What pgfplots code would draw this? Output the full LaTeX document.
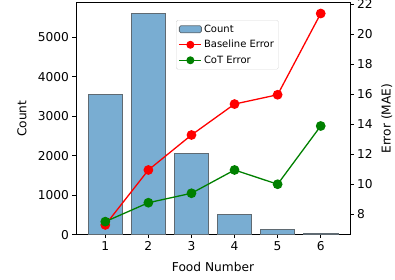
\documentclass[border=0pt]{standalone}
\usepackage{fontspec}
\setmainfont{DejaVu Sans}
\usepackage{pgfplots}
\pgfplotsset{compat=1.18}
\definecolor{barfill}{HTML}{79ADD2}
\definecolor{baredge}{HTML}{5F6A72}
\definecolor{cotgreen}{HTML}{008000}
\begin{document}
\begin{tikzpicture}[font=\fontsize{12.2}{14}\selectfont]
\pgfplotsset{
  common/.style={
    scale only axis, width=274pt, height=232pt,
    xmin=0.32, xmax=6.68,
    tick align=outside,
    major tick length=3.5pt,
    tick style={black, line width=0.6pt},
    /pgf/number format/assume math mode=true,
    /pgf/number format/1000 sep={},
    axis line style={line width=0.7pt},
  }
}
\begin{axis}[common,
  ymin=0, ymax=5873,
  xtick={1,2,3,4,5,6},
  ytick={0,1000,2000,3000,4000,5000},
  xtick pos=bottom, ytick pos=left,
  scaled y ticks=false,
  xlabel={Food Number}, ylabel={Count},
  xlabel style={at={(axis description cs:0.5,-0.138)}, anchor=center},
  ylabel style={at={(axis description cs:-0.197,0.5)}, anchor=center},
]
\addplot[ybar, bar width=0.8, fill=barfill, draw=baredge, line width=0.8pt, bar shift=0pt]
  coordinates {(1,3555) (2,5595) (3,2060) (4,516) (5,127) (6,35)};
\end{axis}
\begin{axis}[common,
  ymin=6.64, ymax=22.09,
  axis x line=none,
  axis y line*=right,
  ytick={8,10,12,14,16,18,20,22},
  ylabel={Error (MAE)},
  ylabel style={at={(axis description cs:1.134,0.5)}, anchor=center},
  legend style={at={(0.365,0.925)}, anchor=north west, draw=black!15, rounded corners=1.5pt,
    font=\fontsize{10}{12}\selectfont, row sep=2.5pt, inner sep=2.5pt},
  legend cell align=left,
  legend image code/.code={\draw[mark repeat=2, mark phase=2, mark size=3.3pt]
     plot coordinates {(0pt,0pt) (11pt,0pt) (22pt,0pt)};},
]
\addlegendimage{legend image code/.code={\draw[fill=barfill, draw=baredge, line width=0.8pt]
     (0pt,-3.5pt) rectangle (22pt,3.5pt);}}
\addlegendentry{Count}
\addplot[red, line width=1.3pt, mark=*, mark size=4.2pt, mark options={solid}]
  coordinates {(1,7.29) (2,10.95) (3,13.28) (4,15.34) (5,15.96) (6,21.37)};
\addlegendentry{Baseline Error}
\addplot[cotgreen, line width=1.3pt, mark=*, mark size=4.2pt, mark options={solid}]
  coordinates {(1,7.51) (2,8.77) (3,9.40) (4,10.95) (5,10.00) (6,13.88)};
\addlegendentry{CoT Error}
\end{axis}
\pgfresetboundingbox
\path[use as bounding box] (-76pt,-44.3pt) rectangle (319pt,234.7pt);
\end{tikzpicture}
\end{document}
